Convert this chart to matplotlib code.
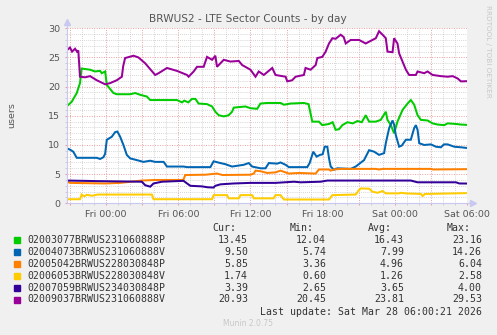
import matplotlib.pyplot as plt
from matplotlib.ticker import MultipleLocator

plt.rcParams['font.family'] = ['DejaVu Sans']

W, H = 497, 335

# time axis: hours from Fri 00:00
green_t = [-3.23, -2.86, -2.44, -2.17, -2.03, -1.33, -0.92, -0.5, -0.36, -0.08, 0.06, 0.61, 0.89, 2.0,
           2.42, 2.83, 3.39, 3.67, 5.89, 6.31, 6.5, 6.83, 7.14, 7.42, 7.69, 8.39, 8.81, 9.08, 9.36, 9.78,
           10.19, 10.47, 10.61, 11.58, 12.0, 12.56, 12.83, 13.39, 14.5, 14.78, 15.33, 16.44, 16.83, 17.14,
           17.69, 17.97, 18.53, 18.83, 19.08, 19.36, 19.64, 20.06, 20.5, 20.89, 21.25, 21.58, 21.86, 22.42,
           22.83, 23.25, 23.39, 23.67, 23.94, 24.22, 24.64, 25.06, 25.33, 25.61, 25.89, 26.17, 26.72, 27.14,
           27.56, 28.11, 28.39, 29.08, 29.5, 29.92]
green_v = [16.7, 17.4, 18.9, 20.6, 23.1, 22.9, 22.6, 22.7, 22.3, 22.6, 20.3, 18.9, 18.7, 18.7,
           18.9, 18.6, 18.3, 17.7, 17.7, 17.3, 17.6, 17.3, 17.9, 17.9, 17.1, 17.0, 16.6, 15.7, 15.1, 14.9,
           15.1, 15.7, 16.4, 16.6, 16.3, 16.2, 17.1, 17.2, 17.2, 16.9, 17.1, 17.2, 17.0, 14.0,
           14.0, 13.4, 13.6, 13.9, 12.6, 12.7, 13.4, 13.9, 13.7, 14.1, 13.9, 15.1, 14.0, 14.0,
           14.3, 15.7, 14.3, 13.4, 12.0, 14.0, 16.0, 17.1, 17.7, 16.9, 15.1, 14.3, 14.2, 13.7,
           13.5, 13.4, 13.7, 13.6, 13.5, 13.45]

blue_t = [-3.23, -3.0, -2.73, -2.44, -0.78, -0.5, -0.22, -0.08, 0.06, 0.47, 0.75, 0.94, 1.17, 1.44,
          1.72, 2.0, 2.56, 3.11, 3.67, 4.08, 4.78, 5.06, 6.44, 6.73, 8.67, 8.94, 9.5, 9.92, 10.47, 11.44,
          11.86, 12.14, 12.83, 13.25, 13.53, 14.22, 14.5, 14.92, 15.19, 16.72, 16.92, 17.22, 17.5, 17.78,
          18.0, 18.17, 18.39, 18.53, 18.67, 18.94, 19.22, 20.33, 20.75, 21.44, 21.86, 22.28, 22.69, 23.11,
          23.25, 23.53, 23.81, 23.94, 24.08, 24.36, 24.58, 24.92, 25.33, 25.61, 25.75, 25.89, 26.03, 26.44,
          27.0, 27.42, 27.83, 28.08, 28.39, 28.94, 29.5, 29.92]
blue_v = [9.4, 9.2, 8.85, 7.8, 7.8, 7.6, 7.9, 8.5, 10.9, 11.4, 12.2, 12.3, 11.4, 10.0,
          8.3, 7.7, 7.4, 7.1, 7.3, 7.1, 7.1, 6.3, 6.3, 6.2, 6.2, 7.2, 6.9, 6.7, 6.3, 6.6,
          6.9, 6.3, 6.0, 6.0, 6.9, 6.8, 7.0, 6.6, 6.2, 6.2, 6.9, 8.85, 8.0, 8.3,
          8.4, 9.7, 9.7, 7.7, 6.3, 5.75, 6.0, 5.9, 6.3, 7.4, 9.1, 8.85, 8.3, 8.6,
          10.3, 12.9, 14.2, 13.5, 11.7, 9.7, 9.9, 10.9, 10.9, 12.9, 13.4, 12.6, 10.3, 10.0,
          10.1, 9.7, 9.6, 10.1, 10.1, 9.7, 9.6, 9.5]

orange_t = [-3.23, -3.0, -0.08, 1.17, 2.97, 4.08, 6.42, 6.58, 8.25, 9.22, 9.67, 12.0, 12.28, 12.42,
            12.83, 13.39, 14.08, 14.5, 15.19, 16.03, 17.42, 17.69, 18.53, 18.67, 18.94, 19.5, 22.42,
            22.67, 23.0, 27.0, 27.17, 29.92]
orange_v = [3.7, 3.5, 3.4, 3.5, 3.9, 4.0, 4.0, 4.85, 4.9, 5.1, 4.85, 4.9, 5.1, 5.6,
            5.5, 5.2, 5.3, 5.6, 5.1, 5.2, 5.1, 5.8, 5.8, 5.6, 5.8, 5.9, 5.9,
            5.8, 5.9, 5.9, 5.8, 5.85]

yellow_t = [-3.23, -2.17, -2.03, -1.83, -1.61, -1.17, -0.67, 3.81, 3.94, 8.81, 8.94, 10.06, 10.19, 11.03,
            11.17, 12.14, 12.28, 13.92, 14.08, 14.5, 14.78, 18.53, 18.81, 20.75, 21.03, 21.17, 21.86,
            22.14, 22.56, 22.98, 23.25, 24.36, 24.5, 24.92, 26.17, 26.31, 26.5, 29.92]
yellow_v = [0.7, 0.7, 1.5, 1.2, 1.45, 1.3, 1.5, 1.5, 0.7, 0.7, 1.4, 1.4, 0.85, 0.85,
            1.4, 1.4, 0.85, 0.85, 1.4, 1.4, 0.65, 0.65, 1.4, 1.5, 2.3, 2.55, 2.5,
            2.0, 1.8, 2.1, 1.7, 1.7, 1.8, 1.7, 1.6, 1.25, 1.6, 1.74]

indigo_t = [-3.23, -0.64, 2.97, 3.25, 3.67, 3.94, 4.64, 6.44, 6.73, 7.0, 7.97, 8.42, 8.92, 9.08, 9.5,
            10.61, 12.0, 14.08, 15.61, 16.17, 17.83, 18.39, 25.33, 25.89, 29.08, 29.36, 29.92]
indigo_v = [3.9, 3.8, 3.7, 3.1, 2.85, 3.4, 3.7, 3.85, 3.4, 3.0, 2.9, 2.75, 2.7, 3.0, 3.25,
            3.4, 3.5, 3.5, 3.7, 3.6, 3.7, 3.9, 3.9, 3.6, 3.6, 3.4, 3.39]

purple_t = [-3.23, -3.0, -2.83, -2.58, -2.42, -2.31, -2.17, -1.75, -1.33, -0.78, -0.08, 0.33, 0.89, 1.31,
            1.42, 1.58, 2.28, 2.69, 3.25, 4.08, 4.36, 5.06, 5.89, 6.73, 6.86, 7.28, 7.56, 8.11, 8.39,
            8.81, 9.08, 9.22, 9.78, 10.33, 11.03, 11.31, 12.0, 12.42, 12.69, 13.11, 13.81, 14.08, 14.92,
            15.06, 15.47, 15.75, 16.44, 16.58, 17.0, 17.42, 17.56, 17.97, 18.25, 18.53, 18.81, 19.08,
            19.5, 19.75, 19.92, 20.33, 21.03, 21.58, 21.86, 22.42, 22.69, 22.98, 23.25, 23.39, 23.81,
            23.94, 24.22, 24.36, 24.64, 24.92, 25.19, 25.75, 25.89, 26.44, 26.72, 27.14, 27.83, 28.39,
            28.81, 29.22, 29.5, 29.92]
purple_v = [26.3, 26.7, 26.0, 26.5, 26.0, 26.2, 21.7, 21.6, 21.8, 21.1, 20.4, 20.6, 21.1, 21.7,
            23.5, 24.9, 25.3, 25.0, 24.0, 22.0, 22.3, 23.2, 22.7, 22.0, 21.7, 22.6, 23.4, 23.4, 25.1,
            24.6, 25.3, 23.4, 24.6, 24.3, 24.4, 23.7, 22.9, 21.7, 22.6, 22.0, 23.2, 22.0, 21.7,
            20.9, 21.1, 21.7, 22.0, 23.2, 22.9, 23.7, 24.9, 25.1, 26.0, 27.4, 28.3, 28.2,
            28.9, 28.5, 27.4, 28.0, 28.0, 27.4, 27.7, 28.3, 29.5, 28.9, 28.3, 26.0, 25.9,
            28.3, 27.4, 25.7, 24.3, 22.9, 22.0, 22.0, 22.6, 22.3, 22.6, 22.0, 21.8, 21.7,
            21.8, 21.4, 20.9, 20.93]

names = ['02003077BRWUS231060888P', '02004073BRWUS231060888V', '02005042BRWUS228030848P',
         '02006053BRWUS228030848V', '02007059BRWUS234030848P', '02009037BRWUS231060888V']
colors = ['#00cc00', '#0066b3', '#ff8000', '#ffcc00', '#330099', '#990099']
cur_vals = ['13.45', '9.50', '5.85', '1.74', '3.39', '20.93']
min_vals = ['12.04', '5.74', '3.36', '0.60', '2.65', '20.45']
avg_vals = ['16.43', '7.99', '4.96', '1.26', '3.65', '23.81']
max_vals = ['23.16', '14.26', '6.04', '2.58', '4.00', '29.53']

tick_hours = [0, 6, 12, 18, 24, 30]
tick_labels = ['Fri 00:00', 'Fri 06:00', 'Fri 12:00', 'Fri 18:00', 'Sat 00:00', 'Sat 06:00']

series = [(green_t, green_v), (blue_t, blue_v), (orange_t, orange_v),
          (yellow_t, yellow_v), (indigo_t, indigo_v), (purple_t, purple_v)]

fig = plt.figure(figsize=(W / 100, H / 100), dpi=100, facecolor='#f0f0f0')
ax = fig.add_axes([67 / W, 1 - 203.3 / H, 400 / W, 175 / H])
ax.set_facecolor('white')

for (t, v), c in zip(series, colors):
    ax.plot(t, v, color=c, lw=1.45, solid_joinstyle='miter')

ax.set_xlim(-3.25, 30)
ax.set_ylim(0, 30)

# grid: red dotted major, grey dotted minor
ax.xaxis.set_major_locator(MultipleLocator(3))
ax.xaxis.set_minor_locator(MultipleLocator(1))
ax.yaxis.set_major_locator(MultipleLocator(5))
ax.yaxis.set_minor_locator(MultipleLocator(1))
ax.grid(which='major', color='#e8a0a0', ls=(0, (1, 1.5)), lw=0.7)
ax.grid(which='minor', color='#c8c8c8', ls=(0, (1, 1.5)), lw=0.6)
ax.set_axisbelow(True)

xt = ax.get_xticks()
ax.set_xticklabels([tick_labels[tick_hours.index(int(h))] if int(h) in tick_hours else '' for h in xt])

ax.tick_params(axis='both', which='major', length=1.5, color='#e8a0a0', labelsize=6.8,
               labelcolor='#555555')
ax.tick_params(axis='both', which='minor', length=1.5, color='#c8c8c8')
ax.tick_params(axis='x', pad=3)
ax.tick_params(axis='y', pad=3.5)

for s in ['top', 'right']:
    ax.spines[s].set_visible(False)
for s in ['left', 'bottom']:
    ax.spines[s].set_color('#c8c8f0')
    ax.spines[s].set_linewidth(0.8)

# axis arrows
ax.plot([0, 0], [1.0, 1.03], color='#c8c8f0', lw=0.8, transform=ax.transAxes, clip_on=False)
ax.plot([0], [1.035], marker='^', ms=4, color='#c8c8f0', transform=ax.transAxes, clip_on=False)
ax.plot([1.0, 1.012], [0, 0], color='#c8c8f0', lw=0.8, transform=ax.transAxes, clip_on=False)
ax.plot([1.014], [0], marker='>', ms=4, color='#c8c8f0', transform=ax.transAxes, clip_on=False)

fig.text(248 / W, 1 - 19 / H, 'BRWUS2 - LTE Sector Counts - by day', ha='center', va='center',
         fontsize=7.6, color='#555555')
fig.text(12 / W, 1 - 115 / H, 'users', rotation=90, ha='center', va='center',
         fontsize=6.8, color='#555555')
fig.text(488 / W, 1 - 5 / H, 'RRDTOOL / TOBI OETIKER', rotation=270, ha='center', va='top',
         fontsize=5.2, color='#c8c8c8')

# legend
mono = 'DejaVu Sans Mono'
fs = 7.1
tc = '#333333'
header_y = 228
for x, lab in zip([212, 290, 368, 447], ['Cur:', 'Min:', 'Avg:', 'Max:']):
    fig.text(x / W, 1 - header_y / H, lab, family=mono, fontsize=fs, color=tc, ha='left', va='center')

for i, name in enumerate(names):
    y = 240 + i * 11.9
    fig.patches.append(plt.Rectangle((14 / W, 1 - (y + 3) / H), 6 / W, 6 / H,
                                     transform=fig.transFigure, color=colors[i]))
    fig.text(27 / W, 1 - y / H, name, family=mono, fontsize=fs, color=tc, ha='left', va='center')
    for x, val in zip([248, 326, 404, 482], [cur_vals[i], min_vals[i], avg_vals[i], max_vals[i]]):
        fig.text(x / W, 1 - y / H, val, family=mono, fontsize=fs, color=tc, ha='right', va='center')

fig.text(482 / W, 1 - 312 / H, 'Last update: Sat Mar 28 06:00:21 2026', family=mono, fontsize=fs,
         color=tc, ha='right', va='center')
fig.text(248 / W, 1 - 324 / H, 'Munin 2.0.75', fontsize=5.5, color='#c8c8c8', ha='center', va='center')

fig.savefig('out.png', dpi=100, facecolor=fig.get_facecolor())
